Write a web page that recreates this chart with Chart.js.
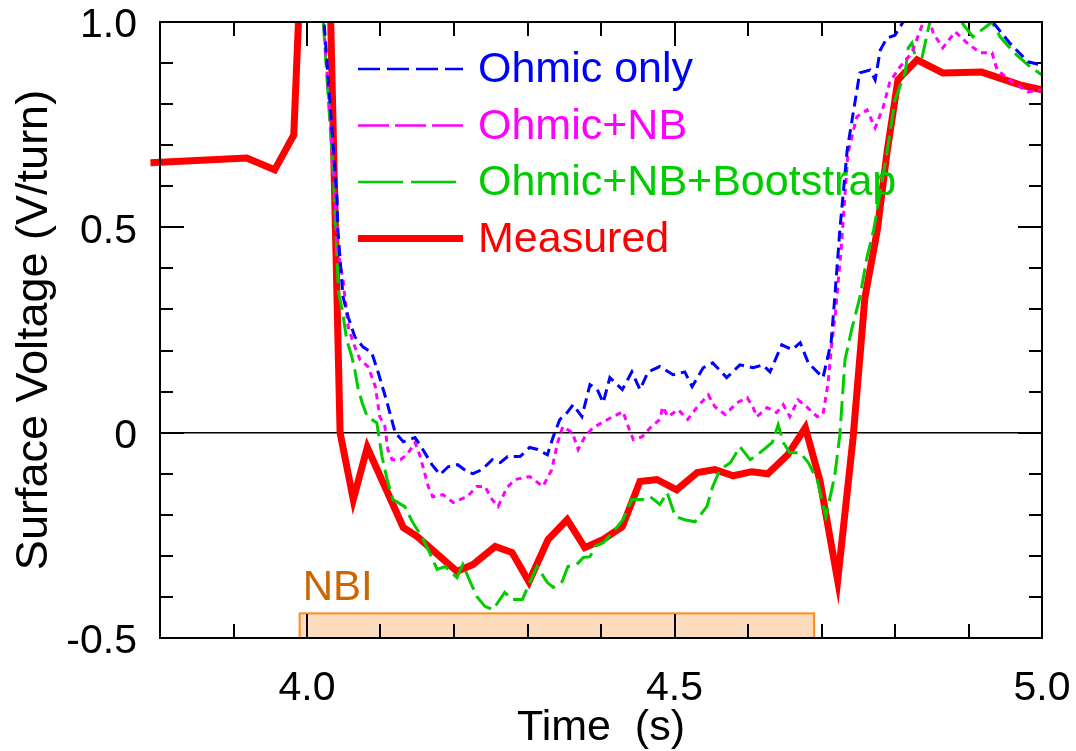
<!DOCTYPE html>
<html><head><meta charset="utf-8">
<script src="https://cdn.jsdelivr.net/npm/chart.js@4.4.1/dist/chart.umd.min.js"></script>
<style>html,body{margin:0;padding:0;background:#fff;}canvas{display:block;}</style>
</head><body>
<canvas id="c" width="1076" height="751"></canvas>
<script>
// ---------- data ----------
const xRange = [3.8, 5.0];
const yRange = [-0.5, 1.0];
const xTickValues = [4.0, 4.5, 5.0];
const xTickLabels = ['4.0', '4.5', '5.0'];
const yTickValues = [-0.5, 0, 0.5, 1.0];
const yTickLabels = ['-0.5', '0', '0.5', '1.0'];
const xMinorStep = 0.1;
const yMinorStep = 0.1;
const nbiWindow = [3.99, 4.69];
const nbiTop = -0.44;
const seriesNames = ['Ohmic only', 'Ohmic+NB', 'Ohmic+NB+Bootstrap', 'Measured'];

const ohmicOnly = [[4.015,1.2],[4.041,0.567],[4.042,0.494],[4.049,0.331],[4.056,0.282],[4.065,0.234],[4.076,0.209],[4.088,0.195],[4.097,0.146],[4.109,0.073],[4.120,0.000],[4.131,-0.022],[4.147,-0.012],[4.156,-0.036],[4.170,-0.078],[4.181,-0.102],[4.192,-0.083],[4.205,-0.078],[4.218,-0.095],[4.226,-0.100],[4.238,-0.090],[4.252,-0.066],[4.263,-0.073],[4.273,-0.058],[4.290,-0.058],[4.303,-0.036],[4.314,-0.041],[4.327,-0.054],[4.335,-0.010],[4.344,0.032],[4.354,0.049],[4.362,0.068],[4.374,0.039],[4.385,0.117],[4.395,0.105],[4.403,0.073],[4.412,0.134],[4.429,0.105],[4.442,0.148],[4.453,0.105],[4.464,0.148],[4.480,0.161],[4.498,0.141],[4.514,0.148],[4.524,0.112],[4.539,0.158],[4.552,0.170],[4.571,0.134],[4.589,0.165],[4.607,0.158],[4.620,0.165],[4.630,0.148],[4.646,0.214],[4.660,0.202],[4.671,0.219],[4.682,0.170],[4.702,0.134],[4.713,0.219],[4.718,0.328],[4.725,0.494],[4.735,0.689],[4.752,0.876],[4.766,0.883],[4.773,0.859],[4.780,0.932],[4.789,0.961],[4.800,0.968],[4.811,1.000],[4.875,1.04],[4.933,1.0],[4.956,0.949],[4.981,0.903],[5.000,0.895]];

const ohmicNB = [[4.015,1.2],[4.037,0.62],[4.041,0.453],[4.045,0.414],[4.049,0.372],[4.056,0.258],[4.063,0.219],[4.072,0.178],[4.083,0.161],[4.093,0.112],[4.099,0.039],[4.106,0.015],[4.110,-0.041],[4.116,-0.066],[4.127,-0.066],[4.136,-0.054],[4.147,-0.024],[4.154,-0.058],[4.165,-0.131],[4.171,-0.156],[4.185,-0.151],[4.199,-0.170],[4.208,-0.163],[4.218,-0.156],[4.231,-0.131],[4.242,-0.131],[4.252,-0.163],[4.260,-0.180],[4.272,-0.134],[4.283,-0.114],[4.303,-0.107],[4.321,-0.131],[4.333,-0.090],[4.341,-0.024],[4.348,0.015],[4.361,0.000],[4.369,-0.041],[4.378,-0.010],[4.389,0.012],[4.401,0.024],[4.416,0.039],[4.430,0.051],[4.437,0.015],[4.444,-0.017],[4.456,-0.010],[4.467,0.012],[4.480,0.032],[4.484,0.063],[4.491,0.039],[4.505,0.056],[4.518,0.032],[4.531,0.063],[4.546,0.092],[4.555,0.063],[4.569,0.044],[4.585,0.073],[4.599,0.085],[4.607,0.061],[4.612,0.039],[4.626,0.061],[4.639,0.049],[4.648,0.068],[4.657,0.039],[4.668,0.080],[4.680,0.063],[4.694,0.039],[4.702,0.044],[4.709,0.122],[4.714,0.219],[4.719,0.292],[4.727,0.453],[4.736,0.681],[4.748,0.769],[4.762,0.786],[4.773,0.742],[4.784,0.793],[4.793,0.854],[4.807,0.891],[4.823,0.925],[4.838,0.998],[4.845,1.02],[4.852,0.973],[4.865,0.937],[4.882,0.976],[4.898,0.949],[4.916,0.925],[4.932,0.925],[4.939,0.883],[4.961,0.852],[4.981,0.830],[5.0,0.835]];

const ohmicNBBootstrap = [[4.015,1.2],[4.036,0.62],[4.039,0.494],[4.043,0.34],[4.048,0.299],[4.054,0.226],[4.061,0.185],[4.065,0.153],[4.069,0.112],[4.075,0.073],[4.082,0.039],[4.095,0.024],[4.102,-0.058],[4.109,-0.114],[4.117,-0.163],[4.133,-0.180],[4.144,-0.219],[4.156,-0.253],[4.165,-0.285],[4.177,-0.333],[4.188,-0.326],[4.204,-0.353],[4.212,-0.321],[4.222,-0.363],[4.231,-0.399],[4.242,-0.423],[4.253,-0.431],[4.269,-0.389],[4.279,-0.406],[4.293,-0.406],[4.303,-0.365],[4.313,-0.326],[4.327,-0.365],[4.335,-0.377],[4.347,-0.363],[4.355,-0.326],[4.367,-0.321],[4.376,-0.304],[4.385,-0.302],[4.392,-0.277],[4.403,-0.268],[4.419,-0.236],[4.430,-0.212],[4.442,-0.163],[4.456,-0.163],[4.467,-0.156],[4.480,-0.175],[4.490,-0.146],[4.501,-0.204],[4.514,-0.212],[4.528,-0.217],[4.544,-0.180],[4.552,-0.131],[4.562,-0.090],[4.576,-0.073],[4.589,-0.034],[4.603,-0.066],[4.616,-0.049],[4.633,-0.024],[4.641,0.019],[4.648,-0.024],[4.657,-0.049],[4.671,-0.049],[4.682,-0.073],[4.694,-0.114],[4.706,-0.204],[4.718,-0.105],[4.725,-0.005],[4.732,0.178],[4.741,0.251],[4.752,0.328],[4.762,0.428],[4.771,0.494],[4.789,0.681],[4.800,0.810],[4.814,0.878],[4.818,0.937],[4.823,0.949],[4.827,0.920],[4.837,0.915],[4.844,0.973],[4.850,1.02],[4.868,1.03],[4.888,1.005],[4.906,0.964],[4.932,1.0],[4.943,0.964],[4.961,0.927],[4.981,0.895],[5.0,0.871]];

const measured = [[3.787,0.657],[3.918,0.669],[3.956,0.640],[3.982,0.725],[4.000,1.5],[4.031,1.1],[4.045,0.0],[4.063,-0.163],[4.082,-0.036],[4.131,-0.231],[4.150,-0.253],[4.204,-0.338],[4.226,-0.321],[4.256,-0.277],[4.279,-0.292],[4.302,-0.363],[4.328,-0.260],[4.354,-0.212],[4.378,-0.280],[4.403,-0.260],[4.429,-0.229],[4.453,-0.119],[4.476,-0.114],[4.503,-0.139],[4.531,-0.097],[4.555,-0.090],[4.580,-0.105],[4.605,-0.095],[4.627,-0.100],[4.654,-0.054],[4.678,0.012],[4.698,-0.118],[4.722,-0.36],[4.743,-0.012],[4.759,0.328],[4.776,0.494],[4.789,0.681],[4.804,0.859],[4.830,0.908],[4.865,0.876],[4.918,0.878],[4.970,0.847],[5.000,0.835]];

// ---------- styles ----------
const FONT = '"Liberation Sans", Arial, Helvetica, sans-serif';
const colors = ['#0000ff', '#ff00ff', '#00cc00', '#ff0000'];
const plotDash = [[11, 6], [6, 5], [20, 7], []];
const plotWidth = [3, 3, 3, 7];
const legendDash = [[22, 7], [31, 6], [45, 8], []];
const legendWidth = [2.5, 2.5, 2.5, 7];

const toPts = arr => arr.map(p => ({x: p[0], y: p[1]}));
const findLabel = (vals, labels, v) => {
  const i = vals.findIndex(t => Math.abs(t - v) < 1e-9);
  return i >= 0 ? labels[i] : null;
};

const deco = {
  id: 'deco',
  beforeDatasetsDraw(chart) {
    const {ctx, chartArea: a, scales: {x, y}} = chart;
    ctx.save();
    const x0 = x.getPixelForValue(nbiWindow[0]), x1 = x.getPixelForValue(nbiWindow[1]);
    const yt = y.getPixelForValue(nbiTop), yb = y.getPixelForValue(yRange[0]);
    ctx.fillStyle = '#fddcbe';
    ctx.fillRect(x0, yt, x1 - x0, yb - yt);
    ctx.strokeStyle = '#ff8c1a';
    ctx.lineWidth = 2;
    ctx.strokeRect(x0, yt, x1 - x0, yb - yt);
    ctx.fillStyle = '#cc6600';
    ctx.font = '42px ' + FONT;
    ctx.textBaseline = 'alphabetic';
    ctx.textAlign = 'left';
    ctx.fillText('NBI', x0 + 3, yt - 13);
    const y0 = y.getPixelForValue(0);
    ctx.strokeStyle = '#000';
    ctx.lineWidth = 1.5;
    ctx.beginPath(); ctx.moveTo(a.left, y0); ctx.lineTo(a.right, y0); ctx.stroke();
    ctx.lineWidth = 2;
    ctx.beginPath();
    const nx = Math.round((xRange[1] - xRange[0]) / xMinorStep);
    for (let i = 1; i < nx; i++) {
      const v = xRange[0] + i * xMinorStep;
      const major = Math.abs(v / 0.5 - Math.round(v / 0.5)) < 1e-6;
      const L = major ? 24 : 14;
      const px = Math.round(x.getPixelForValue(v));
      ctx.moveTo(px, a.bottom); ctx.lineTo(px, a.bottom - L);
      ctx.moveTo(px, a.top); ctx.lineTo(px, a.top + L);
    }
    const ny = Math.round((yRange[1] - yRange[0]) / yMinorStep);
    for (let i = 1; i < ny; i++) {
      const v = yRange[0] + i * yMinorStep;
      const major = Math.abs(v / 0.5 - Math.round(v / 0.5)) < 1e-6;
      const L = major ? 24 : 13;
      const py = Math.round(y.getPixelForValue(v));
      ctx.moveTo(a.left, py); ctx.lineTo(a.left + L, py);
      ctx.moveTo(a.right, py); ctx.lineTo(a.right - L, py);
    }
    ctx.stroke();
    ctx.restore();
  },
  afterDatasetsDraw(chart) {
    const {ctx, chartArea: a} = chart;
    ctx.save();
    ctx.strokeStyle = '#000';
    ctx.lineWidth = 2;
    ctx.strokeRect(a.left, a.top, a.right - a.left, a.bottom - a.top);
    const lx0 = 358, lx1 = 463, tx = 478, ly0 = 69, dy = 56.5;
    ctx.font = '43px ' + FONT;
    ctx.textBaseline = 'alphabetic';
    ctx.textAlign = 'left';
    for (let i = 0; i < seriesNames.length; i++) {
      const ly = ly0 + i * dy;
      ctx.strokeStyle = colors[i];
      ctx.lineWidth = legendWidth[i];
      ctx.setLineDash(legendDash[i]);
      ctx.lineCap = 'butt';
      ctx.beginPath(); ctx.moveTo(lx0, ly); ctx.lineTo(lx1, ly); ctx.stroke();
      ctx.setLineDash([]);
      ctx.fillStyle = colors[i];
      ctx.fillText(seriesNames[i], tx, ly + 13);
    }
    ctx.restore();
  }
};

const mk = (i, data) => ({
  label: seriesNames[i], data: toPts(data),
  borderColor: colors[i], backgroundColor: colors[i],
  borderWidth: plotWidth[i], borderDash: plotDash[i],
  borderJoinStyle: 'miter', borderCapStyle: 'butt',
  pointRadius: 0, tension: 0, fill: false,
  clip: i === 3 ? {left: 12, top: 0, right: 0, bottom: 0} : 0
});

new Chart(document.getElementById('c'), {
  type: 'line',
  data: {datasets: [mk(0, ohmicOnly), mk(1, ohmicNB), mk(2, ohmicNBBootstrap), mk(3, measured)]},
  options: {
    responsive: false, animation: false, devicePixelRatio: 1,
    layout: {padding: {top: 22, right: 34, left: 0, bottom: 0}},
    plugins: {legend: {display: false}, tooltip: {enabled: false}},
    scales: {
      x: {
        type: 'linear', min: xRange[0], max: xRange[1],
        afterFit(s) { s.height = 113; s.paddingLeft = 0; s.paddingRight = 0; },
        afterBuildTicks(s) { s.ticks = xTickValues.map(v => ({value: v})); },
        ticks: {
          callback: v => findLabel(xTickValues, xTickLabels, v),
          font: {family: FONT, size: 41, lineHeight: 1}, color: '#000',
          padding: 30, maxRotation: 0, autoSkip: false
        },
        grid: {display: false, drawTicks: false},
        border: {display: false},
        title: {display: true, text: 'Time  (s)', color: '#000',
          font: {family: FONT, size: 43, lineHeight: 1}, padding: {top: 0, bottom: 1}}
      },
      y: {
        type: 'linear', min: yRange[0], max: yRange[1],
        afterFit(s) { s.width = 160; s.paddingTop = 0; s.paddingBottom = 0; },
        afterBuildTicks(s) { s.ticks = yTickValues.map(v => ({value: v})); },
        ticks: {
          callback: v => findLabel(yTickValues, yTickLabels, v),
          font: {family: FONT, size: 41, lineHeight: 1}, color: '#000',
          padding: 23, labelOffset: 4, autoSkip: false
        },
        grid: {display: false, drawTicks: false},
        border: {display: false},
        title: {display: true, text: 'Surface Voltage (V/turn)', color: '#000',
          font: {family: FONT, size: 45, lineHeight: 1}, padding: {top: 12, bottom: 0}}
      }
    }
  },
  plugins: [deco]
});
</script>
</body></html>
